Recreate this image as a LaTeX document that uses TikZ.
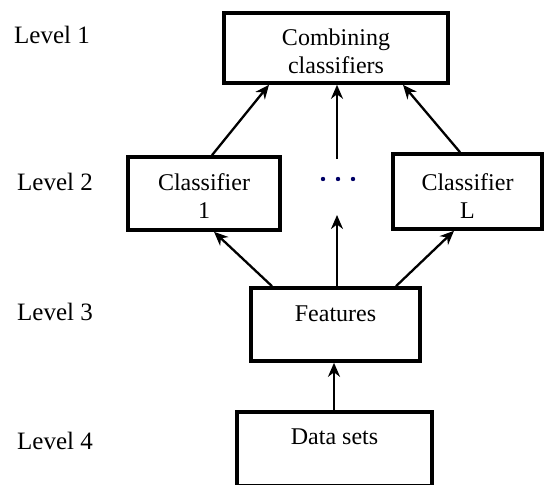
\documentclass[tikz,border=0pt]{standalone}
\usepackage{fontspec}
\setmainfont{Liberation Serif}
\usetikzlibrary{arrows.meta,calc}
\begin{document}
\begin{tikzpicture}[x=1pt,y=1pt,
  box/.style={draw,line width=3.6pt,inner sep=0pt},
  txt/.style={font=\fontsize{24}{28}\selectfont,align=center,inner sep=0pt},
  lvl/.style={font=\fontsize{25}{30}\selectfont,anchor=west,inner sep=0pt},
  arr/.style={line width=2.3pt,-{Stealth[length=14pt,width=12pt,inset=4.5pt]}}]
\useasboundingbox (0,0) rectangle (545,-484);
% boxes
\node[box,minimum width=224pt,minimum height=70pt] (comb) at (336,-48) {};
\node[box,minimum width=152pt,minimum height=73pt] (c1) at (204,-193.5) {};
\node[box,minimum width=149pt,minimum height=75pt] (cL) at (467.5,-191.5) {};
\node[box,minimum width=169pt,minimum height=73pt] (feat) at (335.5,-324.5) {};
\node[box,minimum width=195pt,minimum height=74pt] (data) at (334.5,-449) {};
% texts
\node[txt] (combt) at (336,-51) {Combining\\classifiers};
\node[txt] (c1t) at (204,-196) {Classifier\\1};
\node[txt] (cLt) at (467.5,-196) {Classifier\\L};
\node[txt] (featt) at (335.5,-314) {Features};
\node[txt] (datat) at (334.5,-437) {Data sets};
% level labels
\node[lvl] (l1) at (14,-35) {Level 1};
\node[lvl] (l2) at (17,-182) {Level 2};
\node[lvl] (l3) at (17,-312) {Level 3};
\node[lvl] (l4) at (17,-441) {Level 4};
% dots
\node[inner sep=0pt,minimum size=0pt] (dots) at (338,-179) {};
\fill[blue!40!black] ([xshift=-15pt]dots) circle (2.2pt) (dots) circle (2.2pt) ([xshift=15pt]dots) circle (2.2pt);
% free ends
\coordinate (mtop) at (337,-159);
\coordinate (mbot) at (337,-215);
% arrows
\draw[arr] ([xshift=8pt]c1.north) -- ([xshift=-67pt]comb.south);
\draw[arr] ([xshift=-7.5pt]cL.north) -- ([xshift=67pt]comb.south);
\draw[arr] (mtop) -- (comb.south -| mtop);
\draw[arr] ([xshift=-63.5pt]feat.north) -- ([xshift=10pt]c1.south);
\draw[arr] (feat.north -| mbot) -- (mbot);
\draw[arr] ([xshift=60.5pt]feat.north) -- ([xshift=-13.5pt]cL.south);
\draw[arr] (data.north -| 334,0) -- (feat.south -| 334,0);
\end{tikzpicture}
\end{document}
